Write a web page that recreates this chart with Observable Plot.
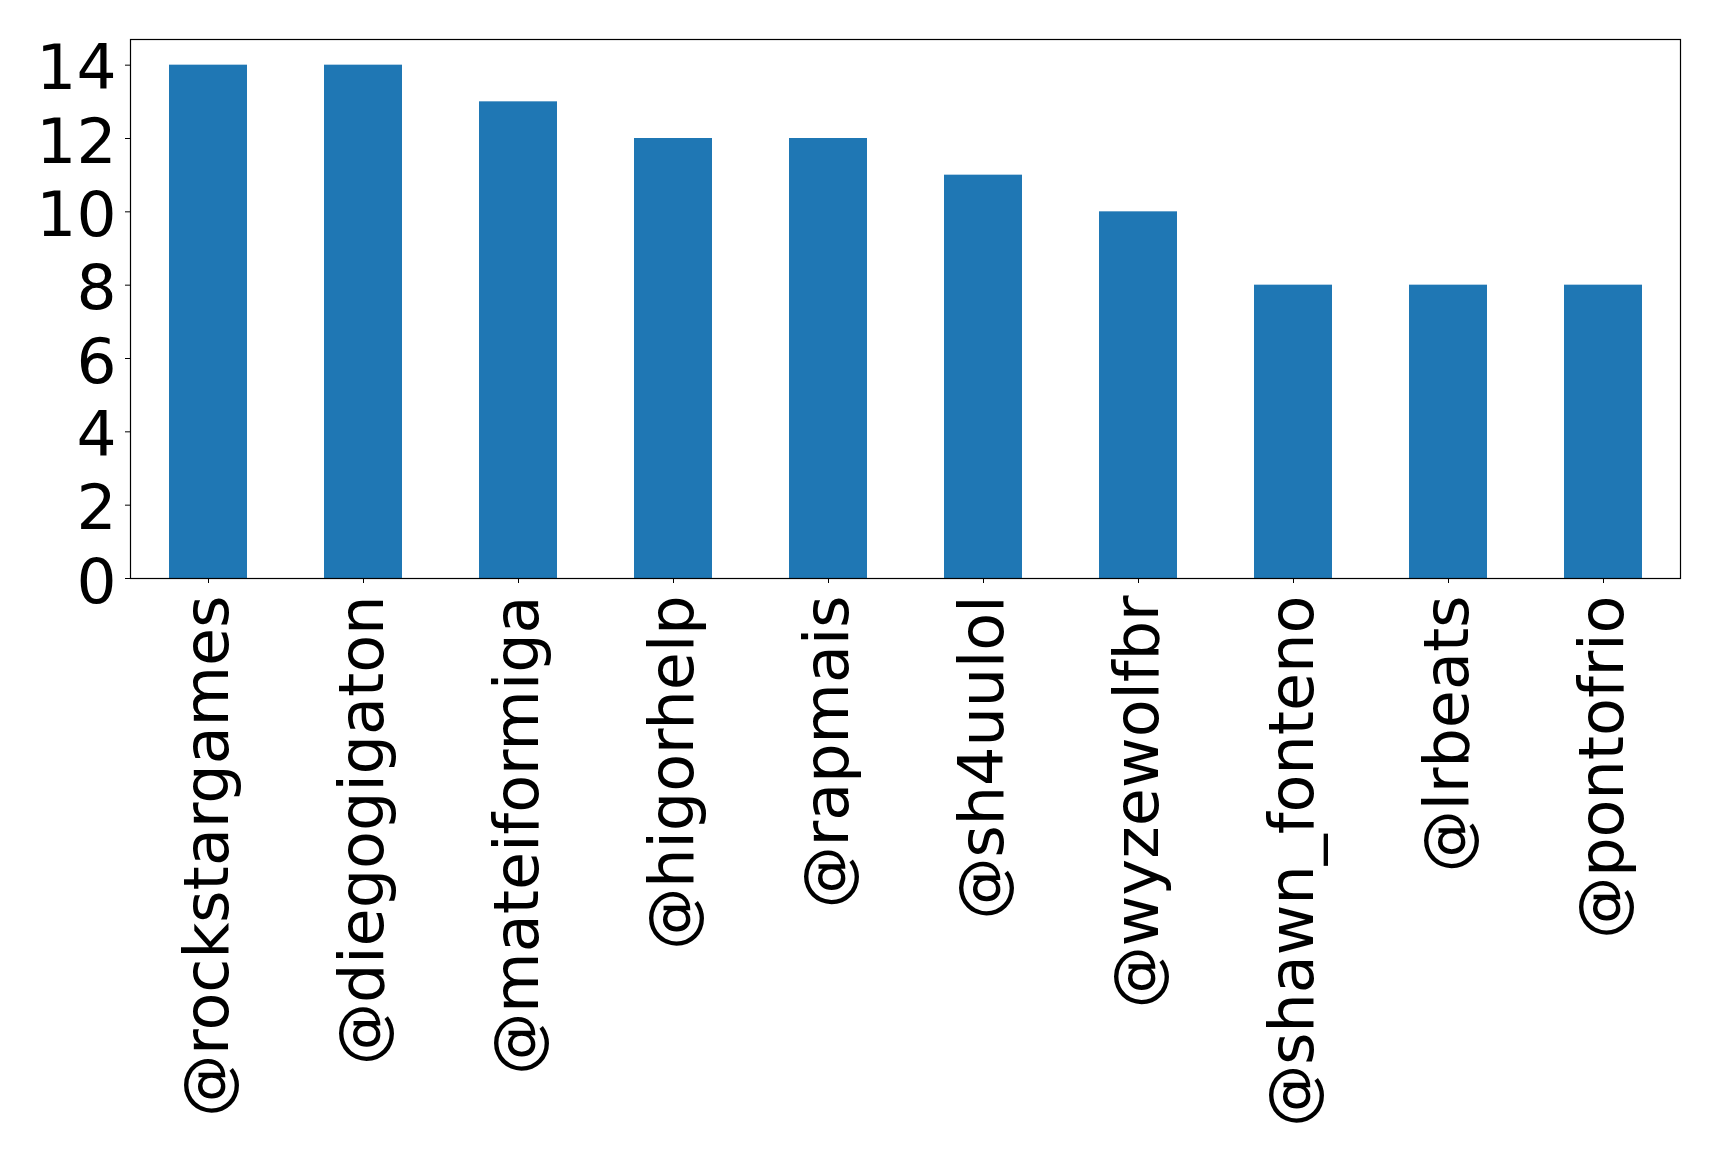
<!DOCTYPE html>
<html>
<head>
<meta charset="utf-8">
<script src="https://cdn.jsdelivr.net/npm/d3@7"></script>
<script src="https://cdn.jsdelivr.net/npm/@observablehq/plot@0.6"></script>
<style>
  html, body { margin: 0; padding: 0; background: #fff; }
  #chart svg { display: block; }
</style>
</head>
<body>
<div id="chart"></div>
<script>
const users = ["@rockstargames", "@diegogigaton", "@mateiformiga", "@higorhelp", "@rapmais", "@sh4uulol", "@wyzewolfbr", "@shawn_fonteno", "@lrbeats", "@pontofrio"];
const counts = [14, 14, 13, 12, 12, 11, 10, 8, 8, 8];
const yTicks = [0, 2, 4, 6, 8, 10, 12, 14];

const data = users.map((u, i) => ({user: u, count: counts[i]}));

const chart = Plot.plot({
  width: 1719,
  height: 1163,
  marginLeft: 130,
  marginRight: 39,
  marginTop: 39,
  marginBottom: 585,
  style: {fontFamily: "'DejaVu Sans', sans-serif", background: "#fff", color: "#000"},
  x: {domain: users, paddingInner: 0.5, paddingOuter: 0.25, label: null},
  y: {domain: [0, 14.7], label: null},
  marks: [
    Plot.barY(data, {x: "user", y: "count", fill: "#1f77b4"}),
    Plot.axisY({ticks: yTicks, tickSize: 5, label: null, tickFormat: () => ""}),
    Plot.axisY({ticks: yTicks, tickSize: 0, tickPadding: 14, fontSize: 63, dy: 4, label: null, tickFormat: d => String(d)}),
    Plot.axisX({tickSize: 5, tickPadding: 12, tickRotate: -90, fontSize: 62, label: null}),
    Plot.frame({stroke: "#000", strokeWidth: 1.2})
  ]
});
document.getElementById("chart").appendChild(chart);
</script>
</body>
</html>
